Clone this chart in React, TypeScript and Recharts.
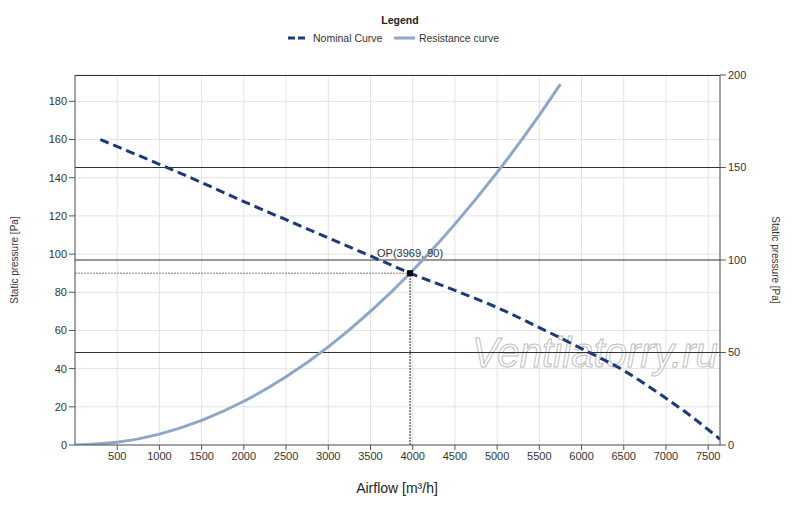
import React from "react";
import {
  LineChart,
  Line,
  XAxis,
  YAxis,
  CartesianGrid,
  ReferenceLine,
  ReferenceDot,
  Customized,
} from "recharts";

const airflowTicks = [500, 1000, 1500, 2000, 2500, 3000, 3500, 4000, 4500, 5000, 5500, 6000, 6500, 7000, 7500];
const leftTicks = [0, 20, 40, 60, 80, 100, 120, 140, 160, 180];
const rightTicks = [0, 50, 100, 150, 200];

const nominalFlow = [300, 1000, 1500, 2000, 2500, 3000, 3500, 3969, 4500, 5000, 5500, 6000, 6500, 7000, 7300, 7640];
const nominalPressure = [160, 147, 137.5, 127.5, 118, 108.5, 99, 90, 81, 72, 61.5, 50.5, 39, 24.5, 15, 3];

const resistanceFlow = [0, 500, 1000, 1500, 2000, 2500, 3000, 3500, 3969, 4500, 5000, 5500, 5750];
const resistancePressure = [0, 1.4, 5.7, 12.9, 22.9, 35.7, 51.4, 70, 90, 115.7, 142.8, 172.8, 189];

const opFlow = 3969;
const opPressure = 90;

const nominalData = nominalFlow.map((x, i) => ({ x, y: nominalPressure[i] }));
const resistanceData = resistanceFlow.map((x, i) => ({ x, y: resistancePressure[i] }));

const NAVY = "#1c3a78";
const STEEL = "#8ea7c7";
const FONT = "'Liberation Sans', Arial, sans-serif";

const tickStyle = { fontSize: 11, fill: "#333", fontFamily: FONT };

// frame top, legend, axis titles, watermark
const Extras = () => (
  <g fontFamily={FONT}>
    <line x1={75} x2={720} y1={75.5} y2={75.5} stroke="#333" strokeWidth={1} />
    <text x={472} y={367} fontSize={42} fontStyle="italic" fill="#fff" fillOpacity={0.6}
      stroke="#bdbdbd" strokeWidth={1} textLength={246} lengthAdjust="spacingAndGlyphs">
      Ventilatorry.ru
    </text>
    <text x={400} y={24} textAnchor="middle" fontSize={10.5} fontWeight="bold" fill="#222">Legend</text>
    <line x1={288} x2={306} y1={38} y2={38} stroke={NAVY} strokeWidth={3} strokeDasharray="7 3" />
    <text x={313} y={42} fontSize={10.5} fill="#333">Nominal Curve</text>
    <line x1={394} x2={415} y1={38} y2={38} stroke={STEEL} strokeWidth={3} />
    <text x={419} y={42} fontSize={10.5} fill="#333" textLength={80} lengthAdjust="spacingAndGlyphs">Resistance curve</text>
    <text x={18} y={260} fontSize={10} fill="#333" textAnchor="middle" transform="rotate(-90 18 260)">Static pressure [Pa]</text>
    <text x={772} y={260} fontSize={10} fill="#333" textAnchor="middle" transform="rotate(90 772 260)">Static pressure [Pa]</text>
    <text x={397} y={493} fontSize={14} fill="#222" textAnchor="middle">Airflow [m³/h]</text>
  </g>
);

const SquareDot = (props: any) => (
  <rect x={props.cx - 3} y={props.cy - 3} width={6} height={6} fill="#000" />
);

export default function App() {
  return (
    <div style={{ position: "absolute", left: 0, top: 0, width: 800, height: 507, background: "#fff" }}>
      <LineChart width={800} height={507} margin={{ top: 75, right: 30, bottom: 32, left: 30 }}>
        <CartesianGrid stroke="#e2e2e2" yAxisId="left" />
        <Customized component={Extras} />
        <XAxis
          type="number"
          dataKey="x"
          domain={[0, 7640]}
          ticks={airflowTicks}
          allowDataOverflow
          height={30}
          tick={tickStyle}
          stroke="#555"
          tickSize={5}
        />
        <YAxis
          yAxisId="left"
          type="number"
          domain={[0, 193.8]}
          ticks={leftTicks}
          allowDataOverflow
          width={45}
          tick={tickStyle}
          stroke="#555"
          tickSize={6}
        />
        <YAxis
          yAxisId="right"
          type="number"
          orientation="right"
          domain={[0, 200]}
          ticks={rightTicks}
          allowDataOverflow
          width={50}
          tick={tickStyle}
          stroke="#555"
          tickSize={6}
        />
        {rightTicks.slice(1, -1).map((t) => (
          <ReferenceLine key={t} yAxisId="right" y={t} stroke="#333" strokeWidth={1} />
        ))}
        <ReferenceLine
          yAxisId="left"
          segment={[{ x: 0, y: opPressure }, { x: opFlow, y: opPressure }]}
          stroke="#777"
          strokeDasharray="2 1"
        />
        <ReferenceLine
          yAxisId="left"
          segment={[{ x: opFlow, y: 0 }, { x: opFlow, y: opPressure }]}
          stroke="#222"
          strokeDasharray="2 1"
        />
        <Line
          yAxisId="left"
          data={resistanceData}
          dataKey="y"
          type="monotone"
          stroke={STEEL}
          strokeWidth={3}
          dot={false}
          isAnimationActive={false}
        />
        <Line
          yAxisId="left"
          data={nominalData}
          dataKey="y"
          type="monotone"
          stroke={NAVY}
          strokeWidth={3}
          strokeDasharray="9 5"
          dot={false}
          isAnimationActive={false}
        />
        <ReferenceDot
          yAxisId="left"
          x={opFlow}
          y={opPressure}
          shape={SquareDot}
          label={{ value: `OP(${opFlow}, ${opPressure})`, position: "top", fontSize: 11, fill: "#333", fontFamily: FONT, offset: 6 }}
        />
      </LineChart>
    </div>
  );
}
